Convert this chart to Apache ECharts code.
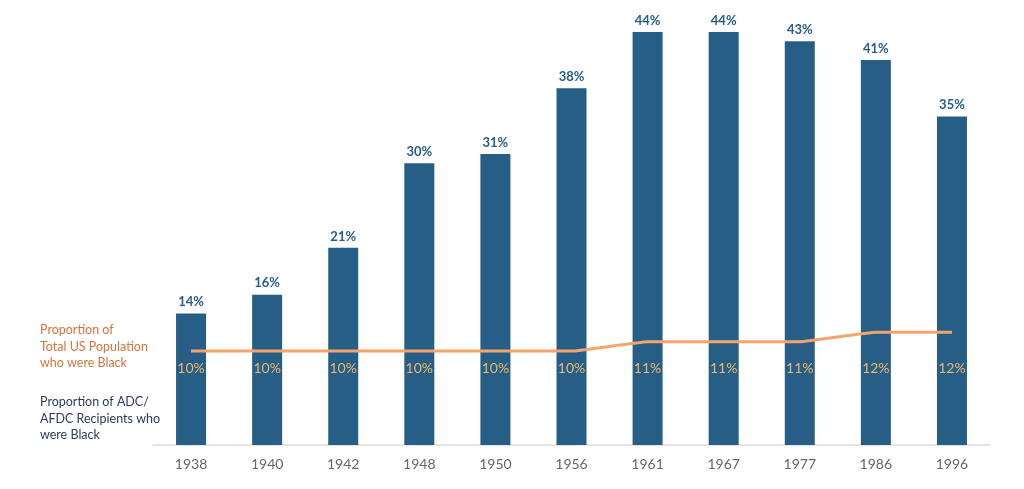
<!DOCTYPE html>
<html>
<head>
<meta charset="utf-8">
<script src="https://cdn.jsdelivr.net/npm/echarts@6/dist/echarts.min.js"></script>
<style>
  html, body { margin: 0; padding: 0; background: #fff; }
  #chart { width: 1024px; height: 489px; }
</style>
</head>
<body>
<div id="chart"></div>
<script>
// 数据
const years = ['1938', '1940', '1942', '1948', '1950', '1956', '1961', '1967', '1977', '1986', '1996'];
const recipientsBlack = [14, 16, 21, 30, 31, 38, 44, 44, 43, 41, 35];
const populationBlack = [10, 10, 10, 10, 10, 10, 11, 11, 11, 12, 12];

const chart = echarts.init(document.getElementById('chart'));

const option = {
  backgroundColor: '#ffffff',
  animation: false,
  grid: { left: 153, right: 34, top: 0, bottom: 44, containLabel: false },
  xAxis: {
    type: 'category',
    data: years,
    axisLine: { lineStyle: { color: '#dcdcdc', width: 1.5 } },
    axisTick: { show: false },
    axisLabel: { color: '#666666', fontSize: 14, fontFamily: 'Lato', margin: 12 }
  },
  yAxis: {
    type: 'value',
    min: 0,
    max: 47.4,
    show: false
  },
  graphic: [
    {
      type: 'text', left: 40, top: 322,
      style: {
        text: 'Proportion of\nTotal US Population\nwho were Black',
        fill: '#d3743c', font: '12.5px Lato', lineHeight: 16.5
      }
    },
    {
      type: 'text', left: 40, top: 394,
      style: {
        text: 'Proportion of ADC/\nAFDC Recipients who\nwere Black',
        fill: '#2b3a62', font: '12.5px Lato', lineHeight: 16.5
      }
    }
  ],
  series: [
    {
      name: 'Proportion of ADC/AFDC Recipients who were Black',
      type: 'bar',
      data: recipientsBlack,
      barWidth: 30,
      itemStyle: { color: '#265e86' },
      label: {
        show: true,
        position: 'top',
        formatter: '{c}%',
        color: '#255d87',
        fontWeight: 'bold',
        fontSize: 13,
        fontFamily: 'Lato',
        distance: 5
      },
      z: 2
    },
    {
      name: 'Proportion of Total US Population who were Black',
      type: 'line',
      data: populationBlack,
      symbol: 'circle',
      symbolSize: 0,
      showSymbol: true,
      smooth: 0.1,
      lineStyle: { color: '#f4a56c', width: 3 },
      itemStyle: { color: '#f4a56c' },
      label: {
        show: true,
        position: 'bottom',
        formatter: '{c}%',
        color: '#ecb86c',
        fontSize: 14,
        fontFamily: 'Lato'
      },
      // 所有数值标签放在同一水平线上
      labelLayout: { y: 368, verticalAlign: 'middle', align: 'center' },
      z: 3
    }
  ]
};

chart.setOption(option);
window.addEventListener('resize', () => chart && chart.resize());
</script>
</body>
</html>
